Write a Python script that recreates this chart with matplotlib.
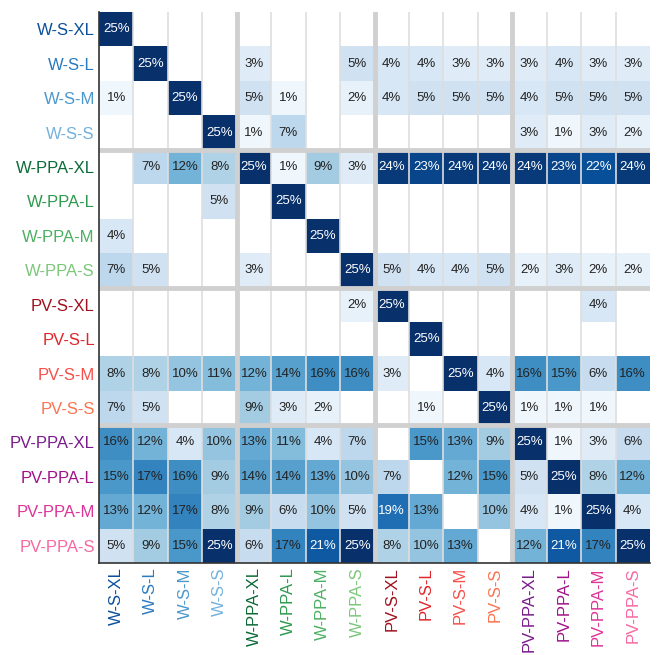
import numpy as np
import matplotlib
matplotlib.use("Agg")
import matplotlib.pyplot as plt

plt.rcParams.update({
    "font.family": ["Liberation Sans", "DejaVu Sans"],
    "font.size": 10,
})

labels = ["W-S-XL", "W-S-L", "W-S-M", "W-S-S",
          "W-PPA-XL", "W-PPA-L", "W-PPA-M", "W-PPA-S",
          "PV-S-XL", "PV-S-L", "PV-S-M", "PV-S-S",
          "PV-PPA-XL", "PV-PPA-L", "PV-PPA-M", "PV-PPA-S"]

label_colors = ["#0b4f9c", "#2a7ac0", "#4a98cc", "#72b2dc",
                "#0b6a36", "#2e9a4e", "#4bb062", "#7cc77a",
                "#a0101e", "#e0262a", "#f5504a", "#fb7350",
                "#7a1b8c", "#a0128a", "#dd3497", "#f768a1"]

# share (%) per row
pct = np.array([
    [25, 0, 0, 0,   0, 0, 0, 0,    0, 0, 0, 0,    0, 0, 0, 0],
    [0, 25, 0, 0,   3, 0, 0, 5,    4, 4, 3, 3,    3, 4, 3, 3],
    [1, 0, 25, 0,   5, 1, 0, 2,    4, 5, 5, 5,    4, 5, 5, 5],
    [0, 0, 0, 25,   1, 7, 0, 0,    0, 0, 0, 0,    3, 1, 3, 2],
    [0, 7, 12, 8,   25, 1, 9, 3,   24, 23, 24, 24, 24, 23, 22, 24],
    [0, 0, 0, 5,    0, 25, 0, 0,   0, 0, 0, 0,    0, 0, 0, 0],
    [4, 0, 0, 0,    0, 0, 25, 0,   0, 0, 0, 0,    0, 0, 0, 0],
    [7, 5, 0, 0,    3, 0, 0, 25,   5, 4, 4, 5,    2, 3, 2, 2],
    [0, 0, 0, 0,    0, 0, 0, 2,    25, 0, 0, 0,   0, 0, 4, 0],
    [0, 0, 0, 0,    0, 0, 0, 0,    0, 25, 0, 0,   0, 0, 0, 0],
    [8, 8, 10, 11,  12, 14, 16, 16, 3, 0, 25, 4,  16, 15, 6, 16],
    [7, 5, 0, 0,    9, 3, 2, 0,    0, 1, 0, 25,   1, 1, 1, 0],
    [16, 12, 4, 10, 13, 11, 4, 7,  0, 15, 13, 9,  25, 1, 3, 6],
    [15, 17, 16, 9, 14, 14, 13, 10, 7, 0, 12, 15, 5, 25, 8, 12],
    [13, 12, 17, 8, 9, 6, 10, 5,   19, 13, 0, 10, 4, 1, 25, 4],
    [5, 9, 15, 25,  6, 17, 21, 25, 8, 10, 13, 0,  12, 21, 17, 25],
])

n = len(labels)
fig = plt.figure(figsize=(6.57, 6.55), dpi=100)
ax = fig.add_axes([99 / 657, 1 - 563 / 655, 551 / 657, 551 / 655])

masked = np.ma.masked_equal(pct, 0)
ax.pcolormesh(np.arange(n + 1), np.arange(n + 1), masked,
              cmap="Blues", vmin=0, vmax=25, zorder=1)

for i in range(n):
    for j in range(n):
        v = pct[i, j]
        if v == 0:
            continue
        ax.text(j + 0.5, i + 0.5, f"{v}%", ha="center", va="center",
                fontsize=9.5, color="white" if v >= 18 else "#222222", zorder=4)

# thin column dividers, thick group dividers
for k in range(1, n):
    ax.axvline(k, color="#dedede", lw=1.2, zorder=2)
for k in (4, 8, 12):
    ax.axvline(k, color="#d0d0d0", lw=3.5, zorder=3)
    ax.axhline(k, color="#d0d0d0", lw=3.5, zorder=3)

ax.set_xlim(0, n)
ax.set_ylim(n, 0)
ax.set_xticks(np.arange(n) + 0.5)
ax.set_yticks(np.arange(n) + 0.5)
ax.set_xticklabels(labels, rotation=90, fontsize=12)
ax.set_yticklabels(labels, fontsize=12)
for t, c in zip(ax.get_xticklabels(), label_colors):
    t.set_color(c)
for t, c in zip(ax.get_yticklabels(), label_colors):
    t.set_color(c)
ax.tick_params(length=0, pad=3)

for s in ("top", "right"):
    ax.spines[s].set_visible(False)
for s in ("left", "bottom"):
    ax.spines[s].set_color("#333333")
    ax.spines[s].set_linewidth(1.2)
    ax.spines[s].set_zorder(5)

fig.savefig("out.png", dpi=100, facecolor="white")
